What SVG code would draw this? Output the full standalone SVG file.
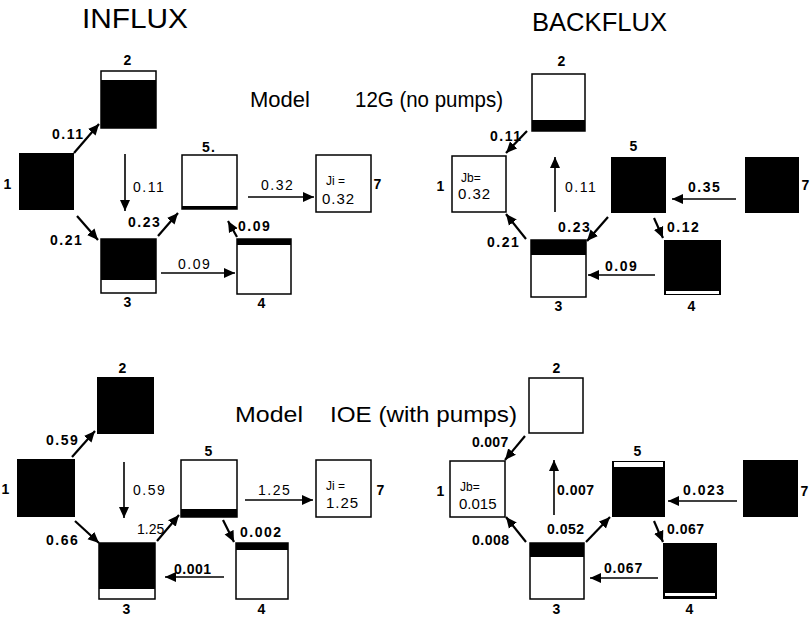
<svg xmlns="http://www.w3.org/2000/svg" width="811" height="617" viewBox="0 0 811 617">
<defs>
<marker id="ah" markerWidth="12" markerHeight="11" refX="11" refY="5.5" orient="auto" markerUnits="userSpaceOnUse">
<path d="M0,0.5 L11,5.5 L0,10.5 z" fill="#000"/>
</marker>
<style>
.bx{fill:#fff;stroke:#000;stroke-width:1.5}
.bk{fill:#000}
.wh{fill:#fff}
.ar{stroke:#000;stroke-width:2.2;fill:none;marker-end:url(#ah)}
.av{stroke:#000;stroke-width:1.6;fill:none;marker-end:url(#ah)}
.t{font-family:"Liberation Sans","DejaVu Sans",sans-serif;fill:#000}
.title{font-size:28px}
.model{font-size:22px}
.lab{font-size:14px;font-weight:bold;letter-spacing:1.2px}
.num{font-size:14px;font-weight:bold;letter-spacing:1.5px}
.ji{font-size:12px}
.jv{font-size:15px;letter-spacing:1px}
</style>
</defs>
<rect width="811" height="617" fill="#fff"/>

<text class="t title" x="82" y="28" textLength="106" lengthAdjust="spacingAndGlyphs">INFLUX</text>
<text class="t title" x="532" y="31" textLength="135" lengthAdjust="spacingAndGlyphs" style="font-size:26px">BACKFLUX</text>
<text class="t model" x="250" y="107">Model</text>
<text class="t model" x="355" y="107" textLength="148" lengthAdjust="spacingAndGlyphs">12G (no pumps)</text>
<text class="t model" x="235" y="422" textLength="68" lengthAdjust="spacingAndGlyphs">Model</text>
<text class="t model" x="330" y="422" textLength="187" lengthAdjust="spacingAndGlyphs">IOE (with pumps)</text>

<!-- Top-left: influx 12G -->
<g id="il1"><rect class="bk" x="19" y="153" width="55" height="57"/><text class="t lab" x="8" y="189" text-anchor="middle">1</text></g>
<g id="il2"><rect class="bx" x="101" y="71" width="55" height="57"/><rect class="bk" x="101" y="80" width="55" height="48"/><text class="t lab" x="128" y="65" text-anchor="middle">2</text></g>
<g id="il3"><rect class="bx" x="101" y="239" width="55" height="54"/><rect class="bk" x="101" y="239" width="55" height="41"/><text class="t lab" x="128" y="307" text-anchor="middle">3</text></g>
<g id="il4"><rect class="bx" x="237" y="239" width="54" height="55"/><rect class="bk" x="237" y="239" width="54" height="6"/><text class="t lab" x="262" y="308" text-anchor="middle">4</text></g>
<g id="il5"><rect class="bx" x="182" y="155" width="55" height="54"/><rect class="bk" x="182" y="206" width="55" height="3"/><text class="t lab" x="209" y="152" text-anchor="middle">5.</text></g>
<g id="il7"><rect class="bx" x="316" y="155" width="55" height="57"/><text class="t ji" x="326" y="185">Ji =</text><text class="t jv" x="322" y="204">0.32</text><text class="t lab" x="378" y="189" text-anchor="middle">7</text></g>

<!-- Top-right: backflux 12G -->
<g id="ib1"><rect class="bx" x="452" y="156" width="54" height="56"/><text class="t ji" x="461" y="182">Jb=</text><text class="t jv" x="458" y="199">0.32</text><text class="t lab" x="441" y="191" text-anchor="middle">1</text></g>
<g id="ib2"><rect class="bx" x="532" y="74" width="53" height="57"/><rect class="bk" x="532" y="120" width="53" height="11"/><text class="t lab" x="562" y="66" text-anchor="middle">2</text></g>
<g id="ib3"><rect class="bx" x="531" y="240" width="55" height="57"/><rect class="bk" x="531" y="240" width="55" height="15"/><text class="t lab" x="559" y="311" text-anchor="middle">3</text></g>
<g id="ib4"><rect class="bk" x="664" y="240" width="57" height="55"/><rect class="wh" x="666" y="291" width="53" height="3"/><text class="t lab" x="692" y="311" text-anchor="middle">4</text></g>
<g id="ib5"><rect class="bk" x="611" y="157" width="55" height="56"/><text class="t lab" x="634" y="151" text-anchor="middle">5</text></g>
<g id="ib7"><rect class="bk" x="745" y="157" width="54" height="56"/><text class="t lab" x="806" y="190" text-anchor="middle">7</text></g>

<!-- Bottom-left: influx 10E -->
<g id="jl1"><rect class="bk" x="17" y="459" width="58" height="58"/><text class="t lab" x="6" y="494" text-anchor="middle">1</text></g>
<g id="jl2"><rect class="bk" x="97" y="377" width="57" height="57"/><text class="t lab" x="123" y="373" text-anchor="middle">2</text></g>
<g id="jl3"><rect class="bx" x="99" y="543" width="56" height="56"/><rect class="bk" x="99" y="543" width="56" height="46"/><text class="t lab" x="127" y="614" text-anchor="middle">3</text></g>
<g id="jl4"><rect class="bx" x="236" y="543" width="52" height="56"/><rect class="bk" x="236" y="543" width="52" height="7"/><text class="t lab" x="262" y="614" text-anchor="middle">4</text></g>
<g id="jl5"><rect class="bx" x="181" y="460" width="56" height="57"/><rect class="bk" x="181" y="509" width="56" height="8"/><text class="t lab" x="209" y="456" text-anchor="middle">5</text></g>
<g id="jl7"><rect class="bx" x="316" y="460" width="55" height="57"/><text class="t ji" x="326" y="490">Ji =</text><text class="t jv" x="326" y="508">1.25</text><text class="t lab" x="381" y="495" text-anchor="middle">7</text></g>

<!-- Bottom-right: backflux 10E -->
<g id="jb1"><rect class="bx" x="450" y="461" width="55" height="56"/><text class="t ji" x="460" y="491">Jb=</text><text class="t jv" x="459" y="509" style="letter-spacing:0">0.015</text><text class="t lab" x="441" y="496" text-anchor="middle">1</text></g>
<g id="jb2"><rect class="bx" x="529" y="378" width="54" height="55"/><text class="t lab" x="557" y="373" text-anchor="middle">2</text></g>
<g id="jb3"><rect class="bx" x="530" y="543" width="54" height="56"/><rect class="bk" x="530" y="543" width="54" height="14"/><text class="t lab" x="557" y="614" text-anchor="middle">3</text></g>
<g id="jb4"><rect class="bk" x="663" y="543" width="54" height="56"/><rect class="wh" x="665" y="593" width="50" height="3"/><text class="t lab" x="690" y="614" text-anchor="middle">4</text></g>
<g id="jb5"><rect class="bk" x="612" y="461" width="53" height="56"/><rect class="wh" x="614" y="462" width="49" height="5"/><text class="t lab" x="638" y="456" text-anchor="middle">5</text></g>
<g id="jb7"><rect class="bk" x="743" y="460" width="55" height="57"/><text class="t lab" x="805" y="496" text-anchor="middle">7</text></g>

<g id="connectors">
<!-- top-left -->
<line class="ar" x1="74" y1="153" x2="99" y2="124"/>
<line class="av" x1="125" y1="154" x2="125" y2="211"/>
<line class="ar" x1="77" y1="216" x2="98" y2="240"/>
<line class="ar" x1="158" y1="236" x2="178" y2="213"/>
<line class="av" x1="161" y1="273" x2="235" y2="273"/>
<line class="ar" x1="237" y1="237" x2="228" y2="221"/>
<line class="av" x1="248" y1="197" x2="314" y2="197"/>
<!-- top-right -->
<line class="ar" x1="527" y1="131" x2="506" y2="153"/>
<line class="av" x1="555" y1="212" x2="555" y2="157"/>
<line class="ar" x1="526" y1="239" x2="506" y2="214"/>
<line class="ar" x1="608" y1="217" x2="587" y2="241"/>
<line class="ar" x1="654" y1="218" x2="663" y2="238"/>
<line class="av" x1="736" y1="199" x2="672" y2="199"/>
<line class="av" x1="655" y1="275" x2="588" y2="275"/>
<!-- bottom-left -->
<line class="ar" x1="72" y1="457" x2="95" y2="431"/>
<line class="av" x1="124" y1="462" x2="124" y2="518"/>
<line class="ar" x1="75" y1="521" x2="99" y2="543"/>
<line class="ar" x1="157" y1="541" x2="179" y2="515"/>
<line class="ar" x1="223" y1="520" x2="234" y2="542"/>
<line class="av" x1="224" y1="577" x2="165" y2="577"/>
<line class="av" x1="245" y1="500" x2="313" y2="500"/>
<!-- bottom-right -->
<line class="ar" x1="525" y1="436" x2="505" y2="460"/>
<line class="av" x1="554" y1="515" x2="554" y2="460"/>
<line class="ar" x1="526" y1="542" x2="506" y2="517"/>
<line class="ar" x1="586" y1="542" x2="610" y2="517"/>
<line class="ar" x1="654" y1="521" x2="663" y2="542"/>
<line class="av" x1="737" y1="501" x2="668" y2="501"/>
<line class="av" x1="658" y1="578" x2="590" y2="578"/>
</g>

<g id="labels">
<text class="t num" x="52" y="139">0.11</text>
<text class="t num" x="133" y="192" style="font-weight:normal">0.11</text>
<text class="t num" x="50" y="245">0.21</text>
<text class="t num" x="128" y="227">0.23</text>
<text class="t num" x="178" y="269" style="font-weight:normal">0.09</text>
<text class="t num" x="238" y="231">0.09</text>
<text class="t num" x="261" y="190" style="font-weight:normal">0.32</text>

<text class="t num" x="490" y="141">0.11</text>
<text class="t num" x="565" y="192" style="font-weight:normal">0.11</text>
<text class="t num" x="487" y="247">0.21</text>
<text class="t num" x="558" y="232">0.23</text>
<text class="t num" x="667" y="232">0.12</text>
<text class="t num" x="688" y="192">0.35</text>
<text class="t num" x="605" y="271">0.09</text>

<text class="t num" x="46" y="445">0.59</text>
<text class="t num" x="133" y="495" style="font-weight:normal">0.59</text>
<text class="t num" x="46" y="545">0.66</text>
<text class="t num" x="137" y="534" style="font-weight:normal;letter-spacing:0">1.25</text>
<text class="t num" x="240" y="537">0.002</text>
<text class="t num" x="174" y="574" style="letter-spacing:0.5px">0.001</text>
<text class="t num" x="258" y="495" style="font-weight:normal">1.25</text>

<text class="t num" x="472" y="447" style="letter-spacing:0.3px">0.007</text>
<text class="t num" x="557" y="495" style="letter-spacing:0.5px">0.007</text>
<text class="t num" x="472" y="545" style="letter-spacing:0.5px">0.008</text>
<text class="t num" x="547" y="534" style="letter-spacing:0.5px">0.052</text>
<text class="t num" x="667" y="534" style="letter-spacing:0.5px">0.067</text>
<text class="t num" x="683" y="495" style="letter-spacing:1.5px">0.023</text>
<text class="t num" x="604" y="573" style="letter-spacing:0.8px">0.067</text>
</g>
</svg>
